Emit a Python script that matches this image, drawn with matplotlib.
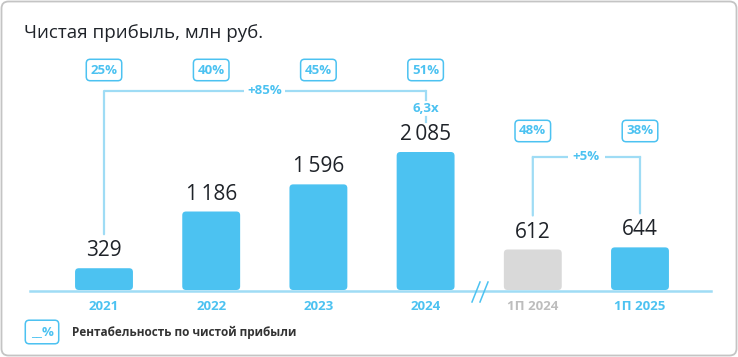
import matplotlib.pyplot as plt
import matplotlib.patches as mpatches
import matplotlib.transforms as mtransforms
from matplotlib.lines import Line2D

plt.rcParams['font.family'] = ['Open Sans', 'DejaVu Sans']

# данные
categories = ['2021', '2022', '2023', '2024', '1П 2024', '1П 2025']
values = [329, 1186, 1596, 2085, 612, 644]
margins = ['25%', '40%', '45%', '51%', '48%', '38%']
growth_year = '+85%'
growth_multi = '6,3x'
growth_half = '+5%'

BLUE = '#4cc2f1'
LINE = '#9fdcf5'
GREY = '#d9d9d9'
GREY_TXT = '#bdbdbd'
DARK = '#1f2329'

W, H = 738, 357
fig = plt.figure(figsize=(W / 100, H / 100), dpi=100)

def fx(px):
    return px / W

def fy(py):
    # пиксели сверху -> доля фигуры
    return 1 - py / H

# рамка
frame = mpatches.FancyBboxPatch((1.5, 1.5), W - 3, H - 3,
                                boxstyle='round,pad=0,rounding_size=7',
                                transform=mtransforms.IdentityTransform(),
                                fc='none', ec='#c4c4c4', lw=1.3, zorder=-10)
fig.patches.append(frame)

# оси для столбцов: база на 290 px, 2085 -> 152 px
ax = fig.add_axes([fx(50.4), fy(290), fx(643.2), (290 - 152) / H])
ax.patch.set_visible(False)
ax.set_xlim(-0.5, 5.5)
ax.set_ylim(0, max(values))
x = list(range(len(categories)))
colors = [BLUE, BLUE, BLUE, BLUE, GREY, BLUE]
bars = ax.bar(x, values, width=0.54, color=colors, zorder=2)
# скруглённые углы
asp = (max(values) / 138) / (6 / 643.2)
for b in bars:
    b.set_visible(False)
    ax.add_patch(mpatches.FancyBboxPatch((b.get_x(), b.get_y()), b.get_width(), b.get_height(),
                                         boxstyle='round,pad=0,rounding_size=0.035',
                                         mutation_aspect=asp, fc=b.get_facecolor(),
                                         ec='none', zorder=2))

for s in ax.spines.values():
    s.set_visible(False)
ax.set_yticks([])
ax.set_xticks(x, categories)
ax.tick_params(axis='x', length=0, pad=7)
for lbl, c in zip(ax.get_xticklabels(), [BLUE] * 4 + [GREY_TXT, BLUE]):
    lbl.set_color(c)
    lbl.set_fontweight('bold')
    lbl.set_fontsize(9.5)

# базовая линия
fig.add_artist(Line2D([fx(30), fx(711)], [fy(290.5), fy(290.5)], color=LINE, lw=1.8))
# разрыв //
for dx in (0, 8):
    fig.add_artist(Line2D([fx(472 + dx), fx(480 + dx)], [fy(302), fy(282)], color=BLUE, lw=1.1))

# подписи значений
for xi, v in zip(x, values):
    txt = f'{v:,}'.replace(',', '\u2009')
    ax.annotate(txt, (xi, v), xytext=(0, 5), textcoords='offset points',
                ha='center', va='bottom', fontsize=15, color=DARK,
                family=['Open Sans', 'DejaVu Sans'])

# рентабельность
mix = mtransforms.blended_transform_factory(ax.transData, fig.transFigure)
box_y = [70, 70, 70, 70, 131, 131]
for xi, m, by in zip(x, margins, box_y):
    ax.text(xi, fy(by), m, transform=mix, ha='center', va='center',
            fontsize=9.5, fontweight='bold', color=BLUE,
            bbox=dict(boxstyle='round,pad=0.32,rounding_size=0.3', fc='white', ec=BLUE, lw=1.1))

# скобки
def leg(xi, v, top):
    ax.annotate('', xy=(xi, v), xycoords=mtransforms.offset_copy(ax.transData, fig=fig, y=34, units='dots'),
                xytext=(xi, fy(top)), textcoords=mix,
                arrowprops=dict(arrowstyle='-', color=LINE, lw=1.6, shrinkA=0, shrinkB=0))

# +85%
leg(0, values[0], 91)
ax.plot([0, 3], [fy(91), fy(91)], transform=mix, color=LINE, lw=1.6, clip_on=False, solid_capstyle='butt')
ax.plot([3, 3], [fy(91), fy(100)], transform=mix, color=LINE, lw=1.6, clip_on=False)
ax.plot([3, 3], [fy(117), fy(122)], transform=mix, color=LINE, lw=1.6, clip_on=False)
ax.text(1.5, fy(91), growth_year, transform=mix, ha='center', va='center', fontsize=9.5,
        fontweight='bold', color=BLUE, bbox=dict(boxstyle='square,pad=0.25', fc='white', ec='none'))
ax.text(3, fy(109), growth_multi, transform=mix, ha='center', va='center', fontsize=9.5,
        fontweight='bold', color=BLUE)

# +5%
leg(4, values[4], 157)
leg(5, values[5], 157)
ax.plot([4, 5], [fy(157), fy(157)], transform=mix, color=LINE, lw=1.6, clip_on=False)
ax.text(4.5, fy(157), growth_half, transform=mix, ha='center', va='center', fontsize=9.5,
        fontweight='bold', color=BLUE, bbox=dict(boxstyle='square,pad=0.35', fc='white', ec='none'))

# заголовок
fig.text(fx(24), fy(33), 'Чистая прибыль, млн руб.', ha='left', va='center',
         fontsize=13.5, color=DARK)

# легенда
fig.text(fx(42), fy(332), '__%', ha='center', va='center', fontsize=9.5, fontweight='bold',
         color=BLUE, bbox=dict(boxstyle='round,pad=0.4,rounding_size=0.3', fc='white', ec=BLUE, lw=1.1))
fig.text(fx(72), fy(332), 'Рентабельность по чистой прибыли', ha='left', va='center',
         fontsize=8.5, fontweight='bold', color='#333333')

fig.savefig('out.png', dpi=100)
